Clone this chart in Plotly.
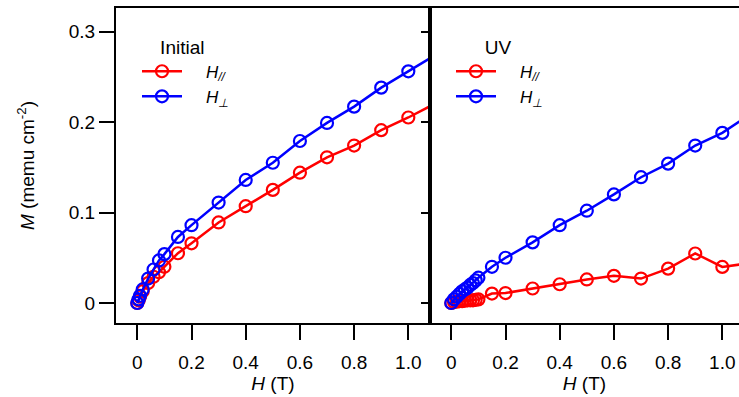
import plotly.graph_objects as go

# ---- data ----
H_initial = [0, 0.005, 0.01, 0.02, 0.04, 0.06, 0.08, 0.1, 0.15, 0.2, 0.3, 0.4, 0.5, 0.6, 0.7, 0.8, 0.9, 1.0, 1.1]
M_initial_par = [0, 0.003, 0.007, 0.013, 0.022, 0.029, 0.034, 0.040, 0.055, 0.066, 0.089, 0.107, 0.125, 0.144, 0.161, 0.174, 0.191, 0.205, 0.2205]
M_initial_perp = [0, 0.004, 0.008, 0.015, 0.027, 0.037, 0.047, 0.054, 0.073, 0.086, 0.111, 0.136, 0.155, 0.179, 0.199, 0.217, 0.238, 0.256, 0.274]

H_uv = [0, 0.01, 0.02, 0.03, 0.04, 0.05, 0.06, 0.07, 0.08, 0.09, 0.1, 0.15, 0.2, 0.3, 0.4, 0.5, 0.6, 0.7, 0.8, 0.9, 1.0, 1.1]
M_uv_par = [0, 0.001, 0.0015, 0.002, 0.002, 0.0025, 0.003, 0.003, 0.003, 0.0035, 0.004, 0.0104, 0.011, 0.016, 0.0207, 0.026, 0.030, 0.027, 0.038, 0.0547, 0.0399, 0.044]
M_uv_perp = [0, 0.004, 0.007, 0.010, 0.013, 0.015, 0.017, 0.020, 0.022, 0.025, 0.028, 0.040, 0.050, 0.067, 0.086, 0.102, 0.120, 0.139, 0.154, 0.174, 0.188, 0.208]

x_tickvals = [0, 0.2, 0.4, 0.6, 0.8, 1.0]
x_ticktext = ["0", "0.2", "0.4", "0.6", "0.8", "1.0"]
y_tickvals = [0, 0.1, 0.2, 0.3]
y_ticktext = ["0", "0.1", "0.2", "0.3"]

name_par = "&nbsp;&nbsp;&nbsp;&nbsp;<i>H<sub>//</sub></i>"
name_perp = "&nbsp;&nbsp;&nbsp;&nbsp;<i>H<sub>⊥</sub></i>"

RED = "#FF0000"
BLUE = "#0000FF"
FONT = "Liberation Sans, Arial, sans-serif"
FS = 19
FS_LEG = 17

fig = go.Figure()

def add(x, y, color, name, xa, ya, legend):
    fig.add_trace(go.Scatter(
        x=x, y=y, mode="lines+markers", name=name,
        line=dict(color=color, width=2.5),
        marker=dict(symbol="circle-open", size=12, color=color, line=dict(width=2.2, color=color)),
        xaxis=xa, yaxis=ya, legend=legend, cliponaxis=True,
    ))

add(H_initial, M_initial_par, RED, name_par, "x", "y", "legend")
add(H_initial, M_initial_perp, BLUE, name_perp, "x", "y", "legend")
add(H_uv, M_uv_par, RED, name_par, "x2", "y2", "legend2")
add(H_uv, M_uv_perp, BLUE, name_perp, "x2", "y2", "legend2")

W, H = 739, 397
left_px, top_px, bottom_px, split_px = 116, 8, 323, 430
ml = left_px
mt = top_px
mb = H - bottom_px
mr = 0
pw = W - ml - mr
ph = H - mt - mb
split = (split_px - left_px) / pw

yr = [-0.0221, 0.326]
xr1 = [-0.0786, 1.080]
px_per_unit = (split_px - left_px) / (xr1[1] - xr1[0])
xr2 = [-0.0786, -0.0786 + (W - split_px) / px_per_unit]

common_x = dict(
    tickvals=x_tickvals, ticktext=x_ticktext, ticks="outside", ticklen=15, tickwidth=2,
    tickcolor="black", showline=True, linecolor="black", linewidth=2, mirror=True,
    showgrid=False, zeroline=False, ticklabelposition="outside", ticklabelstandoff=6, automargin=True,
    tickfont=dict(family=FONT, size=FS, color="black"),
    title=dict(text="<i>H</i> (T)", font=dict(family=FONT, size=FS, color="black"), standoff=4),
)

def legend_box(px_x, px_y):
    return dict(x=(px_x - left_px) / pw, y=1 - (px_y - top_px) / ph)

fig.update_layout(
    width=W, height=H,
    margin=dict(l=ml, r=mr, t=mt, b=mb, autoexpand=False),
    plot_bgcolor="white", paper_bgcolor="white",
    font=dict(family=FONT, size=FS, color="black"),
    xaxis=dict(domain=[0, split], range=xr1, anchor="y", **common_x),
    xaxis2=dict(domain=[split, 1], range=xr2, anchor="y2", **common_x),
    yaxis=dict(
        domain=[0, 1], range=yr, anchor="x",
        tickvals=y_tickvals, ticktext=y_ticktext, ticks="outside", ticklen=15, tickwidth=2,
        tickcolor="black", showline=True, linecolor="black", linewidth=2, mirror=True,
        showgrid=False, zeroline=False, ticklabelstandoff=0, automargin=True,
        tickfont=dict(family=FONT, size=FS, color="black"),
        title=dict(text="<i>M</i> (memu cm<sup>-2</sup>)", font=dict(family=FONT, size=FS, color="black"), standoff=29),
    ),
    yaxis2=dict(
        domain=[0, 1], range=yr, anchor="x2", automargin=False,
        tickvals=y_tickvals, ticks="outside", ticklen=7, tickwidth=2, tickcolor="black",
        showline=True, linecolor="black", linewidth=2, mirror=False,
        showgrid=False, zeroline=False, showticklabels=False,
    ),
    yaxis3=dict(
        domain=[0, 1], range=yr, anchor="x2", overlaying="y2", side="left", automargin=False,
        tickvals=y_tickvals, ticks="inside", ticklen=8, tickwidth=2, tickcolor="black",
        showline=False, showgrid=False, zeroline=False, showticklabels=False,
    ),
    legend=dict(
        **legend_box(137, 29), xanchor="left", yanchor="top",
        bgcolor="rgba(0,0,0,0)", font=dict(family=FONT, size=FS_LEG, color="black"),
        title=dict(text="&nbsp;&nbsp;&nbsp;&nbsp;Initial", font=dict(family=FONT, size=FS, color="black")),
        tracegroupgap=0, itemwidth=40,
    ),
    legend2=dict(
        **legend_box(451, 29), xanchor="left", yanchor="top",
        bgcolor="rgba(0,0,0,0)", font=dict(family=FONT, size=FS_LEG, color="black"),
        title=dict(text="&nbsp;&nbsp;&nbsp;&nbsp;&nbsp;&nbsp;UV", font=dict(family=FONT, size=FS, color="black")),
        tracegroupgap=0, itemwidth=40,
    ),
    showlegend=True,
)

fig.write_html(
    "out.html",
    config={"displayModeBar": False},
    post_script="document.body.style.margin='0';document.body.style.overflow='hidden';",
)
